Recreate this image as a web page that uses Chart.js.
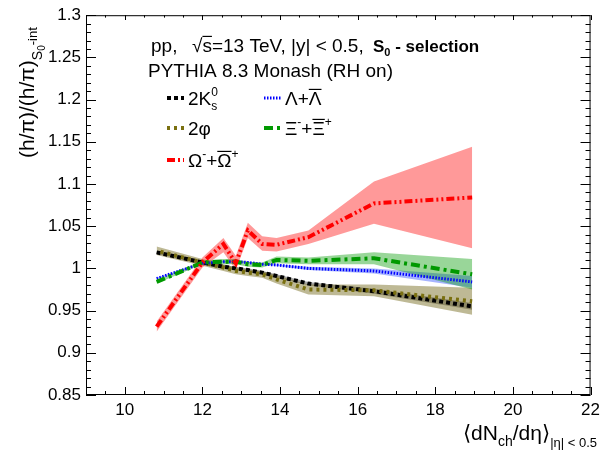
<!DOCTYPE html>
<html>
<head>
<meta charset="utf-8">
<script src="https://cdn.jsdelivr.net/npm/chart.js@4.4.0/dist/chart.umd.min.js"></script>
<style>
  body { margin: 0; background: #fff; }
</style>
</head>
<body>
<canvas id="myChart" width="605" height="450"></canvas>
<script>
// values
const xVals = [10.82, 12.0, 12.54, 12.86, 13.17, 13.54, 13.91, 14.73, 16.42, 18.95]

const k0sVals = [1.019, 1.007, 1.002, 1.000, 0.998, 0.995, 0.991, 0.982, 0.973, 0.955]
const k0sHi   = [1.021, 1.009, 1.004, 1.002, 1.000, 0.997, 0.993, 0.984, 0.976, 0.959]
const k0sLo   = [1.017, 1.005, 1.000, 0.998, 0.996, 0.993, 0.989, 0.980, 0.970, 0.951]

const phiVals = [1.021, 1.007, 1.001, 0.997, 0.995, 0.993, 0.987, 0.975, 0.974, 0.961]
const phiHi   = [1.026, 1.011, 1.005, 1.001, 0.999, 0.997, 0.992, 0.981, 0.981, 0.977]
const phiLo   = [1.016, 1.003, 0.997, 0.993, 0.991, 0.989, 0.982, 0.969, 0.967, 0.945]

const lamVals = [0.988, 1.006, 1.008, 1.008, 1.007, 1.005, 1.004, 1.000, 0.997, 0.984]
const lamHi   = [0.989, 1.007, 1.009, 1.009, 1.008, 1.006, 1.005, 1.002, 1.000, 0.991]
const lamLo   = [0.987, 1.005, 1.007, 1.007, 1.006, 1.004, 1.003, 0.998, 0.994, 0.977]

const xiVals = [0.984, 1.007, 1.008, 1.008, 1.005, 1.004, 1.010, 1.009, 1.012, 0.993]
const xiHi   = [0.986, 1.009, 1.011, 1.011, 1.008, 1.007, 1.014, 1.013, 1.019, 1.011]
const xiLo   = [0.982, 1.005, 1.005, 1.005, 1.002, 1.001, 1.006, 1.005, 1.005, 0.975]

const omVals = [0.931, 1.007, 1.029, 1.006, 1.045, 1.029, 1.028, 1.037, 1.077, 1.084]
const omHi   = [0.937, 1.013, 1.036, 1.015, 1.054, 1.038, 1.036, 1.045, 1.103, 1.144]
const omLo   = [0.925, 1.001, 1.019, 0.998, 1.036, 1.021, 1.020, 1.029, 1.053, 1.024]

const xTickLabels = [10, 12, 14, 16, 18, 20, 22]
const yTickLabels = [0.85, 0.9, 0.95, 1, 1.05, 1.1, 1.15, 1.2, 1.25, 1.3]

const FONT = '"Liberation Sans", Arial, "DejaVu Sans", sans-serif'

// line styles, also used for the legend samples
const styles = {
  k0s: { color: '#000000', width: 4, dash: [4, 3] },
  phi: { color: '#7a7010', width: 4, dash: [3, 4], offset: 3 },
  lam: { color: '#0000ff', width: 3, dash: [1.5, 1.5] },
  xi:  { color: '#009900', width: 4, dash: [9, 4, 3, 4] },
  om:  { color: '#ff0000', width: 4, dash: [8, 3, 2, 3, 2, 3] }
}

function pts(arr) {
  return arr.map((v, i) => ({ x: xVals[i], y: v }))
}

function band(hi, lo, fillColor) {
  return [
    { data: pts(hi), borderWidth: 0, pointRadius: 0, fill: false, order: 10 },
    { data: pts(lo), borderWidth: 0, pointRadius: 0, fill: '-1', backgroundColor: fillColor, order: 10 }
  ]
}

function line(arr, st) {
  return {
    data: pts(arr),
    borderColor: st.color,
    borderWidth: st.width,
    borderDash: st.dash,
    borderDashOffset: st.offset || 0,
    borderCapStyle: 'butt',
    pointRadius: 0,
    fill: false,
    tension: 0,
    order: 1
  }
}

// text with sub/superscripts and overlines
function rich(ctx, x, y, segs, align) {
  let cx = 0, prevStart = 0
  segs.forEach(s => {
    ctx.font = (s.b ? 'bold ' : '') + s.s + 'px ' + FONT
    s.w = ctx.measureText(s.t).width
    const start = s.back ? prevStart : cx
    s.x0 = start
    prevStart = start
    cx = Math.max(cx, start + s.w)
  })
  let off = 0
  if (align === 'right') off = -cx
  if (align === 'center') off = -cx / 2
  ctx.fillStyle = '#000'
  ctx.strokeStyle = '#000'
  ctx.textAlign = 'left'
  ctx.textBaseline = 'alphabetic'
  segs.forEach(s => {
    ctx.font = (s.b ? 'bold ' : '') + s.s + 'px ' + FONT
    const px = x + off + s.x0
    const py = y + (s.dy || 0)
    ctx.fillText(s.t, px, py)
    if (s.ov) {
      ctx.lineWidth = 1.2
      ctx.beginPath()
      ctx.moveTo(px, py - s.s * 0.82)
      ctx.lineTo(px + s.w, py - s.s * 0.82)
      ctx.stroke()
    }
  })
}

const decor = {
  id: 'decor',
  afterDraw(chart) {
    const ctx = chart.ctx
    const a = chart.chartArea
    const xs = chart.scales.x
    const ys = chart.scales.y
    ctx.save()

    // frame
    ctx.strokeStyle = '#000'
    ctx.lineWidth = 1
    ctx.strokeRect(a.left + 0.5, a.top + 0.5, a.right - a.left - 1, a.bottom - a.top - 1)

    // inside ticks
    ctx.beginPath()
    for (let i = 0; i <= 26; i++) {
      const v = 9 + i * 0.5
      const px = Math.round(xs.getPixelForValue(v)) + 0.5
      const len = (v % 2 === 0) ? 8 : 4
      ctx.moveTo(px, a.bottom)
      ctx.lineTo(px, a.bottom - len)
      ctx.moveTo(px, a.top)
      ctx.lineTo(px, a.top + len * 0.6)
    }
    for (let i = 0; i <= 45; i++) {
      const v = 0.85 + i * 0.01
      const py = Math.round(ys.getPixelForValue(v)) + 0.5
      const len = (i % 5 === 0) ? 10 : 5
      ctx.moveTo(a.left, py)
      ctx.lineTo(a.left + len, py)
      ctx.moveTo(a.right, py)
      ctx.lineTo(a.right - len, py)
    }
    ctx.stroke()

    // y title
    ctx.save()
    ctx.translate(34, 158)
    ctx.rotate(-Math.PI / 2)
    rich(ctx, 0, 0, [
      { t: '(h/\u03c0)/(h/\u03c0)', s: 21 },
      { t: 'S', s: 14, dy: 8 },
      { t: '0', s: 10, dy: 11 },
      { t: '-int', s: 13, dy: 3 }
    ], 'left')
    ctx.restore()

    // x title
    rich(ctx, 597, 440, [
      { t: '\u27e8dN', s: 21 },
      { t: 'ch', s: 14, dy: 6 },
      { t: '/d\u03b7\u27e9', s: 21 },
      { t: '|\u03b7| < 0.5', s: 13, dy: 7 }
    ], 'right')

    // header
    rich(ctx, 151, 52, [{ t: 'pp,', s: 19 }], 'left')
    rich(ctx, 192, 52, [
      { t: '\u221a', s: 19 },
      { t: 's', s: 19, ov: true },
      { t: '=13 TeV, |y| < 0.5,', s: 19 }
    ], 'left')
    rich(ctx, 373, 52, [
      { t: 'S', s: 17, b: true },
      { t: '0', s: 11, b: true, dy: 4 },
      { t: ' - selection', s: 17, b: true }
    ], 'left')
    rich(ctx, 148, 77, [{ t: 'PYTHIA 8.3 Monash (RH on)', s: 19 }], 'left')

    // legend
    const entries = [
      { st: styles.k0s, x: 167, y: 98, segs: [
        { t: '2K', s: 19 }, { t: '0', s: 12, dy: -9 }, { t: 's', s: 12, dy: 5, back: true } ] },
      { st: styles.lam, x: 264, y: 98, segs: [
        { t: '\u039b+', s: 19 }, { t: '\u039b', s: 19, ov: true } ] },
      { st: styles.phi, x: 167, y: 128, segs: [
        { t: '2\u03c6', s: 19 } ] },
      { st: styles.xi, x: 264, y: 128, segs: [
        { t: '\u039e', s: 19 }, { t: '-', s: 12, dy: -9 }, { t: '+', s: 19 },
        { t: '\u039e', s: 19, ov: true }, { t: '+', s: 12, dy: -9 } ] },
      { st: styles.om, x: 167, y: 160, segs: [
        { t: '\u03a9', s: 19 }, { t: '-', s: 12, dy: -9 }, { t: '+', s: 19 },
        { t: '\u03a9', s: 19, ov: true }, { t: '+', s: 12, dy: -9 } ] }
    ]
    entries.forEach(e => {
      ctx.save()
      ctx.strokeStyle = e.st.color
      ctx.lineWidth = e.st.width
      ctx.setLineDash(e.st.dash)
      ctx.lineCap = 'butt'
      ctx.beginPath()
      ctx.moveTo(e.x, e.y)
      ctx.lineTo(e.x + 17, e.y)
      ctx.stroke()
      ctx.restore()
      rich(ctx, e.x + 21, e.y + 7, e.segs, 'left')
    })

    ctx.restore()
  }
}

const ctx = document.getElementById('myChart')

new Chart(ctx, {
  type: 'line',
  data: {
    datasets: [
      ...band(omHi, omLo, 'rgba(255,0,0,0.4)'),
      ...band(xiHi, xiLo, 'rgba(0,153,0,0.4)'),
      ...band(lamHi, lamLo, 'rgba(0,40,255,0.35)'),
      ...band(phiHi, phiLo, 'rgba(110,100,20,0.45)'),
      ...band(k0sHi, k0sLo, 'rgba(0,0,0,0.35)'),
      line(omVals, styles.om),
      line(xiVals, styles.xi),
      line(lamVals, styles.lam),
      line(phiVals, styles.phi),
      line(k0sVals, styles.k0s)
    ]
  },
  options: {
    responsive: false,
    animation: false,
    layout: { padding: { top: 15, right: 11, left: 0, bottom: 0 } },
    plugins: {
      legend: { display: false },
      tooltip: { enabled: false },
      filler: { propagate: false }
    },
    scales: {
      x: {
        type: 'linear',
        min: 9,
        max: 22,
        grid: { display: false, drawTicks: false, tickLength: 0 },
        border: { display: false },
        afterBuildTicks: s => { s.ticks = xTickLabels.map(v => ({ value: v })) },
        afterFit: s => { s.height = 55 },
        ticks: {
          color: '#000',
          padding: 5,
          maxRotation: 0,
          font: { family: FONT, size: 17 },
          callback: v => String(v)
        }
      },
      y: {
        min: 0.85,
        max: 1.3,
        grid: { display: false, drawTicks: false, tickLength: 0 },
        border: { display: false },
        afterBuildTicks: s => { s.ticks = yTickLabels.map(v => ({ value: v })) },
        afterFit: s => { s.width = 86 },
        ticks: {
          color: '#000',
          padding: 5,
          font: { family: FONT, size: 17 },
          callback: v => String(+v.toFixed(2))
        }
      }
    }
  },
  plugins: [decor]
})
</script>
</body>
</html>
